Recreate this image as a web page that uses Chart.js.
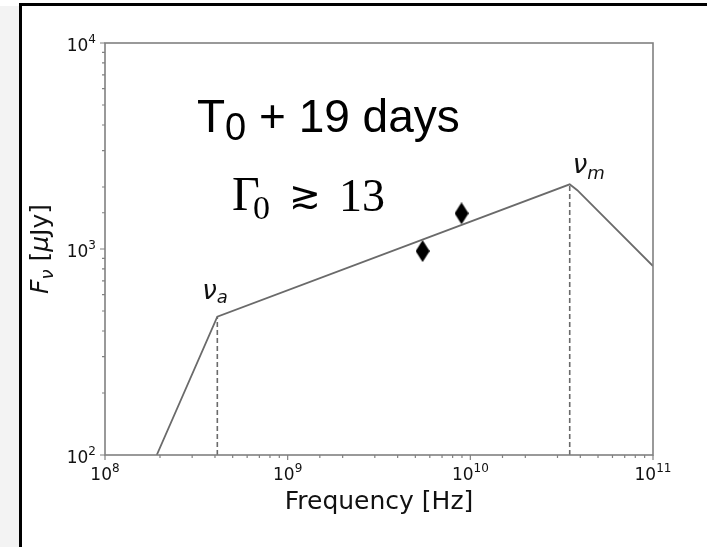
<!DOCTYPE html>
<html>
<head>
<meta charset="utf-8">
<script src="https://cdn.jsdelivr.net/npm/chart.js@4/dist/chart.umd.min.js"></script>
<style>
  html, body { margin: 0; padding: 0; background: #fff; }
  #wrap { width: 707px; height: 547px; position: relative; }
</style>
</head>
<body>
<div id="wrap"><canvas id="sedChart" width="707" height="547"></canvas></div>
<script>
// broken power-law model (frequency in Hz, flux in uJy)
const modelFreq = [1.92e8, 4.12e8, 3.5e10, 3.85e10, 1e11];
const modelFlux = [100, 469, 2060, 1930, 826];

// observed points
const obsFreq = [5.48e9, 8.95e9];
const obsFlux = [977, 1490];

// break frequencies nu_a and nu_m
const breakFreq = [4.12e8, 3.5e10];
const breakFlux = [469, 2060];
const breakNames = ['a', 'm'];

// decade tick labels: base and exponent
const xTickExp = ['8', '9', '10', '11'];
const yTickExp = ['2', '3', '4'];

const GREY = '#6a6a6a';
const AXIS = '#808080';

function isDecade(v) {
    const l = Math.log10(v);
    return Math.abs(l - Math.round(l)) < 1e-6;
}

function makeDiamond(w, h) {
    const c = document.createElement('canvas');
    c.width = w; c.height = h;
    const g = c.getContext('2d');
    g.beginPath();
    g.moveTo(w / 2, 0); g.lineTo(w, h / 2); g.lineTo(w / 2, h); g.lineTo(0, h / 2);
    g.closePath();
    g.fillStyle = '#000';
    g.fill();
    return c;
}
const diamond = makeDiamond(14, 22);

// draw a list of [text, font, dy] pieces one after the other
function drawPieces(ctx, pieces, x, y) {
    let cx = x;
    pieces.forEach(function (p) {
        ctx.font = p[1];
        ctx.fillText(p[0], cx, y + (p[2] || 0));
        cx += ctx.measureText(p[0]).width;
    });
    return cx - x;
}
function piecesWidth(ctx, pieces) {
    let w = 0;
    pieces.forEach(function (p) { ctx.font = p[1]; w += ctx.measureText(p[0]).width; });
    return w;
}
function powLabel(exp) {
    return [['10', '17px "DejaVu Sans"', 0], [exp, '12px "DejaVu Sans"', -8]];
}

const frame = {
    id: 'frame',
    beforeDraw(chart) {
        const ctx = chart.ctx;
        ctx.save();
        ctx.fillStyle = '#f3f3f3';
        ctx.fillRect(0, 6, 19, chart.height - 6);
        ctx.fillStyle = '#000';
        ctx.fillRect(19, 3, chart.width - 19, 3);
        ctx.fillRect(19, 3, 3, chart.height - 3);
        ctx.restore();
    },
    afterDraw(chart) {
        const ctx = chart.ctx;
        const a = chart.chartArea;
        const xs = chart.scales.x, ys = chart.scales.y;
        ctx.save();
        // box
        ctx.strokeStyle = AXIS;
        ctx.lineWidth = 1.6;
        ctx.strokeRect(a.left, a.top, a.right - a.left, a.bottom - a.top);
        // tick marks, major and minor, plus decade labels
        ctx.lineWidth = 1.2;
        ctx.fillStyle = '#111';
        ctx.textBaseline = 'alphabetic';
        ctx.textAlign = 'left';
        ctx.beginPath();
        xs.ticks.forEach(function (t) {
            const px = xs.getPixelForValue(t.value);
            const major = isDecade(t.value);
            ctx.moveTo(px, a.bottom); ctx.lineTo(px, a.bottom + (major ? 5 : 3));
            if (major) {
                const lab = powLabel(xTickExp[Math.round(Math.log10(t.value)) - 8]);
                drawPieces(ctx, lab, px - piecesWidth(ctx, lab) / 2, a.bottom + 25);
            }
        });
        ys.ticks.forEach(function (t) {
            const py = ys.getPixelForValue(t.value);
            const major = isDecade(t.value);
            ctx.moveTo(a.left, py); ctx.lineTo(a.left - (major ? 5 : 3), py);
            if (major) {
                const lab = powLabel(yTickExp[Math.round(Math.log10(t.value)) - 2]);
                drawPieces(ctx, lab, a.left - 9 - piecesWidth(ctx, lab), py + 8);
            }
        });
        ctx.stroke();

        // x title
        ctx.font = '25px "DejaVu Sans"';
        ctx.textAlign = 'center';
        ctx.fillText('Frequency [Hz]', (a.left + a.right) / 2, a.bottom + 54);
        // y title, rotated
        ctx.textAlign = 'left';
        const yt = [
            ['F', 'italic 25px "DejaVu Sans"', 0],
            ['ν', 'italic 18px "DejaVu Sans"', 5],
            [' [', '25px "DejaVu Sans"', 0],
            ['μ', 'italic 25px "DejaVu Sans"', 0],
            ['Jy]', '25px "DejaVu Sans"', 0]
        ];
        ctx.save();
        ctx.translate(48, (a.top + a.bottom) / 2);
        ctx.rotate(-Math.PI / 2);
        drawPieces(ctx, yt, -piecesWidth(ctx, yt) / 2, 0);
        ctx.restore();

        // break labels
        breakFreq.forEach(function (f, i) {
            const px = xs.getPixelForValue(f);
            const py = ys.getPixelForValue(breakFlux[i]);
            const off = i === 0 ? [-15, -18, 4] : [3, -11, 6];
            drawPieces(ctx, [
                ['ν', 'italic 26px "DejaVu Sans"', 0],
                [breakNames[i], 'italic 18px "DejaVu Sans"', off[2]]
            ], px + off[0], py + off[1]);
        });

        // annotations
        ctx.fillStyle = '#000';
        drawPieces(ctx, [
            ['T', '46px Arial, "Liberation Sans"', 0],
            ['0', '38px Arial, "Liberation Sans"', 8],
            [' + 19 days', '46px Arial, "Liberation Sans"', 0]
        ], 197, 132);
        drawPieces(ctx, [['Γ', '48px "Liberation Serif", "DejaVu Serif"', 0]], 232, 210);
        drawPieces(ctx, [['0', '34px "Liberation Serif", "DejaVu Serif"', 0]], 253, 219);
        drawPieces(ctx, [['≳', '38px "DejaVu Serif"', 0]], 289, 208);
        drawPieces(ctx, [['13', '46px "Liberation Serif", "DejaVu Serif"', 0]], 339, 211);
        ctx.restore();
    }
};

const modelData = modelFreq.map(function (f, i) { return { x: f, y: modelFlux[i] }; });
const obsData = obsFreq.map(function (f, i) { return { x: f, y: obsFlux[i] }; });
const dashSets = breakFreq.map(function (f, i) {
    return {
        data: [{ x: f, y: 100 }, { x: f, y: breakFlux[i] }],
        showLine: true,
        borderColor: GREY,
        borderWidth: 1.6,
        borderDash: [5, 3],
        pointRadius: 0
    };
});

const ctx = document.getElementById('sedChart');
new Chart(ctx, {
    type: 'scatter',
    data: {
        datasets: dashSets.concat([
            {
                data: modelData,
                showLine: true,
                borderColor: GREY,
                borderWidth: 1.8,
                pointRadius: 0
            },
            {
                data: obsData,
                pointStyle: diamond,
                pointRadius: 11,
                showLine: false
            }
        ])
    },
    options: {
        responsive: false,
        animation: false,
        events: [],
        layout: { padding: { left: 0, top: 43, right: 54, bottom: 0 } },
        plugins: {
            legend: { display: false },
            tooltip: { enabled: false },
            title: { display: false }
        },
        scales: {
            x: {
                type: 'logarithmic',
                min: 1e8,
                max: 1e11,
                grid: { display: false },
                border: { display: false },
                afterFit: function (s) { s.height = 92; },
                ticks: { autoSkip: false, maxRotation: 0, callback: function () { return ''; } }
            },
            y: {
                type: 'logarithmic',
                min: 100,
                max: 10000,
                grid: { display: false },
                border: { display: false },
                afterFit: function (s) { s.width = 105; },
                ticks: { autoSkip: false, callback: function () { return ''; } }
            }
        }
    },
    plugins: [frame]
});
</script>
</body>
</html>
